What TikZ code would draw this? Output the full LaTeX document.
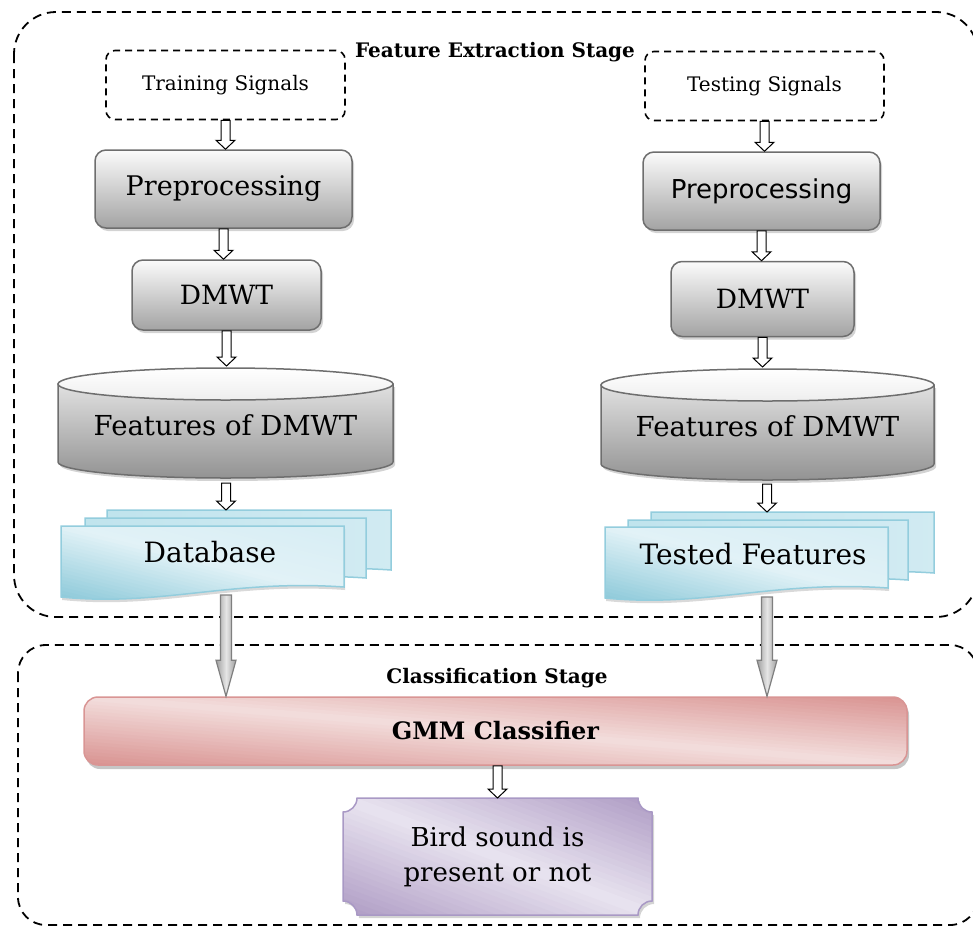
\documentclass[tikz,border=0pt]{standalone}
\usepackage{fontspec}
\setmainfont{DejaVu Serif}
\newfontfamily\sansfam{DejaVu Sans}
\usetikzlibrary{calc,shadows}

\definecolor{boxedge}{HTML}{6E6E6E}
\definecolor{boxtop}{HTML}{FBFBFB}
\definecolor{boxbot}{HTML}{A3A3A3}
\definecolor{tealedge}{HTML}{93CDDD}
\definecolor{tealdark}{HTML}{8FCADA}
\definecolor{teallight}{HTML}{E2F2F7}
\definecolor{tealmid}{HTML}{BCE2EC}
\colorlet{tealtop}{teallight!70!tealmid}
\definecolor{pinkedge}{HTML}{D99594}
\definecolor{pinkdark}{HTML}{D99391}
\definecolor{pinklight}{HTML}{F3DEDD}
\definecolor{lilacedge}{HTML}{A999C5}
\definecolor{lilacdark}{HTML}{AE9BC4}
\definecolor{lilaclight}{HTML}{E9E4F0}
\definecolor{shaftedge}{HTML}{7F7F7F}

% Diagonal gradient inside a clip path, built from thin slanted strips.
% The bands run parallel to the line from (x1,y1) to (x2,y2).
% #1 clip path, #2 x1, #3 y1, #4 x2, #5 y2,
% #6 colour at the upper-right edge, #7 colour on the diagonal, #8 colour at the lower-left edge
\newcommand\diagshade[8]{%
  \begin{scope}
    \clip #1;
    \foreach \i in {0,...,39}{%
      \pgfmathsetmacro\sa{-1+\i/20}%
      \pgfmathsetmacro\sb{\sa+0.06}%
      \pgfmathsetmacro\sm{\sa+0.025}%
      \pgfmathtruncatemacro\pc{\sm<0 ? 100*(1+\sm) : 100*(1-\sm)}%
      \ifdim\sm pt<0pt \colorlet{stripcol}{#7!\pc!#6}\else\colorlet{stripcol}{#7!\pc!#8}\fi
      \fill[stripcol] ({#2-2},{#3+\sa*(#5-#3)}) -- ({#4+2},{#5+\sa*(#5-#3)})
        -- ({#4+2},{#5+\sb*(#5-#3)}) -- ({#2-2},{#3+\sb*(#5-#3)}) -- cycle;
    }
  \end{scope}}

% wavy-bottom page outline: x1, ytop, x2, y at right bottom
\newcommand\pagepath[4]{(#1,#2) -- (#3,#2) -- (#3,#4)
    .. controls ({#3-0.4*(#3-#1)},{#4-8}) and ({#1+0.35*(#3-#1)},{#4+20}) .. (#1,{#4+10}) -- cycle}

% a page lying behind the front one
\newcommand\backpage[4]{\path[backpagestyle] \pagepath{#1}{#2}{#3}{#4};}

% the front page, with its shadow and diagonal gradient
\newcommand\frontpage[4]{%
  \fill[gray, opacity=0.3, xshift=1pt, yshift=-3pt] \pagepath{#1}{#2}{#3}{#4};
  \diagshade{\pagepath{#1}{#2}{#3}{#4}}{#1}{#2}{#3}{#4+10}{tealtop}{teallight}{tealdark}
  \draw[draw=tealedge, line width=1.5pt] \pagepath{#1}{#2}{#3}{#4};}

% drum (cylinder) outline: cx, rx, y of top ellipse centre, y of side bottom, ry
\newcommand\drum[5]{%
  \path[drumbody] ({#1-#2},#3) -- ({#1-#2},#4)
    .. controls ({#1-#2},{#4+0.552*#5}) and ({#1-0.552*#2},{#4+#5}) .. (#1,{#4+#5})
    .. controls ({#1+0.552*#2},{#4+#5}) and ({#1+#2},{#4+0.552*#5}) .. ({#1+#2},#4)
    -- ({#1+#2},#3) -- cycle;
  \path[drumtop] (#1,#3) ellipse [x radius=#2 pt, y radius=#5 pt];}

% plaque with concave corners: x1, y1, x2, y2 (corner radius 14)
\newcommand\plaquepath[4]{({#1+14},#2) -- ({#3-14},#2)
  .. controls ({#3-14},{#2+7.7}) and ({#3-7.7},{#2+14}) .. (#3,{#2+14})
  -- (#3,{#4-14}) .. controls ({#3-7.7},{#4-14}) and ({#3-14},{#4-7.7}) .. ({#3-14},#4)
  -- ({#1+14},#4) .. controls ({#1+14},{#4-7.7}) and ({#1+7.7},{#4-14}) .. (#1,{#4-14})
  -- (#1,{#2+14}) .. controls ({#1+7.7},{#2+14}) and ({#1+14},{#2+7.7}) .. ({#1+14},#2) -- cycle}

\tikzset{
  stagebox/.style={draw=black, line width=1.8pt, dash pattern=on 9pt off 6pt},
  stagelabel/.style={font=\bfseries\fontsize{20}{22}\selectfont, inner sep=0pt},
  srcbox/.style={draw=black, line width=1.6pt, dash pattern=on 7pt off 5pt,
    rounded corners=9pt, minimum width=239pt, minimum height=69pt, inner sep=0pt,
    font=\fontsize{20}{22}\selectfont},
  procbox/.style={draw=boxedge, line width=1.5pt, rounded corners=11pt,
    top color=boxtop, bottom color=boxbot, inner sep=0pt,
    drop shadow={shadow xshift=2pt, shadow yshift=-3pt, opacity=0.35, fill=gray}},
  drumbody/.style={draw=boxedge, line width=1.5pt, top color=boxtop!70!boxbot, bottom color=boxbot!90!black,
    drop shadow={shadow xshift=2pt, shadow yshift=-3pt, opacity=0.35, fill=gray}},
  drumtop/.style={draw=boxedge, line width=1.5pt, top color=white, bottom color=boxtop!85!boxbot},
  backpagestyle/.style={draw=tealedge, line width=1.5pt, left color=tealmid!90!teallight,
    right color=teallight!55!tealmid},
  label/.style={inner sep=0pt},
  openarrow/.style={draw=black, line width=1pt, fill=white,
    to path={let \p1=(\tikztostart), \p2=(\tikztotarget) in
      (\x1-4.5pt,\y1) -- (\x1+4.5pt,\y1) -- (\x1+4.5pt,\y2+9pt) -- (\x1+9.5pt,\y2+9pt)
      -- (\x1,\y2) -- (\x1-9.5pt,\y2+9pt) -- (\x1-4.5pt,\y2+9pt) -- cycle}},
  shaftarrow/.style={draw=shaftedge, line width=1.2pt,
    left color=gray!75, right color=gray!75, middle color=gray!20,
    to path={let \p1=(\tikztostart), \p2=(\tikztotarget) in
      (\x1-5.5pt,\y1) -- (\x1+5.5pt,\y1) -- (\x1+5.5pt,\y2+36pt) -- (\x1+10pt,\y2+36pt)
      -- (\x1,\y2) -- (\x1-10pt,\y2+36pt) -- (\x1-5.5pt,\y2+36pt) -- cycle}},
}

\begin{document}
\begin{tikzpicture}[x=1pt,y=-1pt]
\useasboundingbox (0,0) rectangle (973,926);

% ---------------- feature extraction stage ----------------
\draw[stagebox, rounded corners=42pt] (14,12) rectangle (978,617);
\node[stagelabel] (fes) at (495,52) {Feature Extraction Stage};

\node[srcbox] (ts1) at (225.5,85) {Training Signals};
\node[srcbox] (ts2) at (764.5,86) {Testing Signals};

\node[procbox, minimum width=257pt, minimum height=78pt, font=\fontsize{27}{30}\selectfont]
  (pp1) at (223.5,189) {Preprocessing};
\node[procbox, minimum width=237pt, minimum height=78pt, font=\sansfam\fontsize{26}{29}\selectfont]
  (pp2) at (761.5,191) {Preprocessing};

\node[procbox, minimum width=189pt, minimum height=70pt, font=\fontsize{26.5}{29}\selectfont]
  (dm1) at (226.5,295) {DMWT};
\node[procbox, minimum width=183pt, minimum height=75pt, font=\fontsize{26.5}{29}\selectfont]
  (dm2) at (762.5,299) {DMWT};

% feature stores
\drum{225.5}{167.5}{384}{462}{16}
\drum{767.5}{166.5}{385}{464}{16}
\node[label, font=\fontsize{27.5}{30}\selectfont] (fe1) at (225.5,425) {Features of DMWT};
\node[label, font=\fontsize{27.5}{30}\selectfont] (fe2) at (767.5,426) {Features of DMWT};
\coordinate (c1top) at (226.5,366);
\coordinate (c1bot) at (226,483);
\coordinate (c2top) at (762.5,367);
\coordinate (c2bot) at (767,484);

% document stacks
\coordinate (d1top) at (226,510);
\coordinate (d1bot) at (226,595);
\coordinate (d2top) at (767,512);
\coordinate (d2bot) at (767,597);

% ---------------- classification stage ----------------
\draw[stagebox, rounded corners=28pt] (18,645) rectangle (978,925);
\node[stagelabel] (cls) at (497,678) {Classification Stage};

% classifier bar: shadow, diagonal gradient, then outline and text
\fill[gray, opacity=0.45, rounded corners=14pt] (86,701) rectangle (909,769);
\diagshade{[rounded corners=14pt] (84,697) rectangle (907,765)}{84}{697}{907}{765}
  {pinkdark}{pinklight}{pinkdark}
\node[draw=pinkedge, line width=1.5pt, rounded corners=14pt, inner sep=0pt,
  minimum width=823pt, minimum height=68pt, font=\bfseries\fontsize{24}{27}\selectfont]
  (gmm) at (495.5,731) {GMM Classifier};

\draw[shaftarrow] (d1bot) to (gmm.north -| d1bot);
\draw[shaftarrow] (d2bot) to (gmm.north -| d2bot);

\backpage{107}{510}{391}{570}
\backpage{85}{518}{366}{578}
\frontpage{61}{526}{344}{587}
\backpage{651}{512}{934}{573}
\backpage{628}{520}{908}{580}
\frontpage{605}{527}{888}{588}
\node[label, font=\fontsize{28}{31}\selectfont] (db) at (210,552) {Database};
\node[label, font=\fontsize{28}{31}\selectfont] (tf) at (753,554) {Tested Features};

% result plaque with notched corners
\fill[gray, opacity=0.35, xshift=2pt, yshift=-3pt] \plaquepath{343}{798}{652}{915};
\diagshade{\plaquepath{343}{798}{652}{915}}{343}{798}{652}{915}
  {lilacdark}{lilaclight}{lilacdark}
\draw[draw=lilacedge, line width=1.5pt] \plaquepath{343}{798}{652}{915};
\node[label, align=center, font=\fontsize{26}{35}\selectfont] (bird) at (497.5,856.5)
  {Bird sound is\\present or not};
\coordinate (birdtop) at (497.5,798);

% ---------------- flow arrows ----------------
\draw[openarrow] (ts1.south) to (pp1.north -| ts1.south);
\draw[openarrow] (pp1.south) to (dm1.north -| pp1.south);
\draw[openarrow] (dm1.south) to (c1top);
\draw[openarrow] (c1bot) to (d1top);
\draw[openarrow] (ts2.south) to (pp2.north -| ts2.south);
\draw[openarrow] (pp2.south) to (dm2.north -| pp2.south);
\draw[openarrow] (dm2.south) to (c2top);
\draw[openarrow] (c2bot) to (d2top);
\draw[openarrow] (gmm.south -| birdtop) to (birdtop);
\end{tikzpicture}
\end{document}
